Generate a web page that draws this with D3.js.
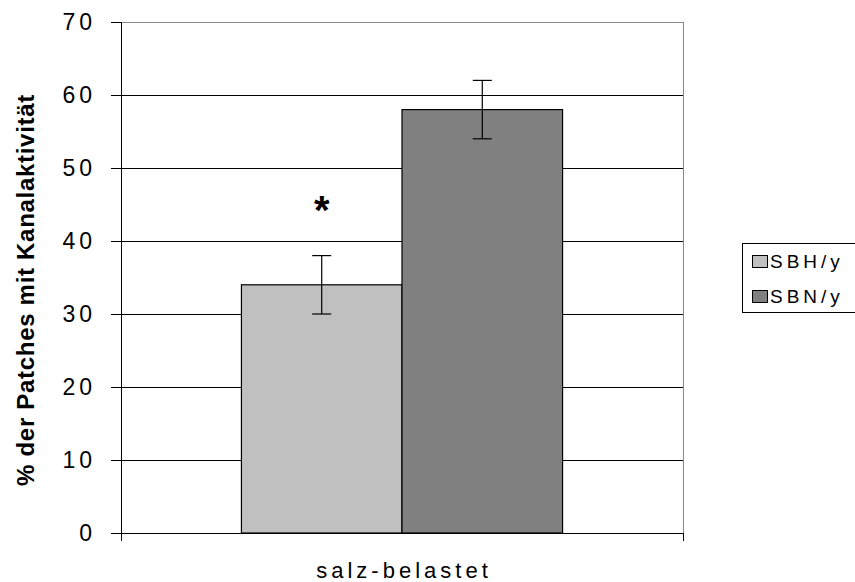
<!DOCTYPE html>
<html><head><meta charset="utf-8">
<script src="https://cdn.jsdelivr.net/npm/d3@7"></script>
<style>body{margin:0;background:#fff}svg{display:block}text{font-family:"Liberation Sans",Arial,sans-serif}</style>
</head><body>
<script>
const categories = ["salz-belastet"];
const seriesNames = ["SBH/y", "SBN/y"];
const seriesValues = [34, 58];
const seriesErrors = [4, 4];
const seriesColors = ["#c0c0c0", "#808080"];
const yTicks = [0, 10, 20, 30, 40, 50, 60, 70];
const significance = ["*", ""];

(function () {
const W = 855, H = 582;
const svg = d3.select("body").append("svg").attr("width", W).attr("height", H);
const pL = 121, pR = 683, pT = 22, pB = 533;
const y = d3.scaleLinear().domain([0, 70]).range([pB, pT]);
const x0 = d3.scaleBand().domain(categories).range([pL, pR]).paddingInner(0).paddingOuter(0.375);
const x1 = d3.scaleBand().domain(seriesNames).range([0, x0.bandwidth()]);

// gridlines
svg.append("g").selectAll("line").data(yTicks.filter(d => d > 0)).join("line")
  .attr("x1", pL).attr("x2", pR).attr("y1", d => y(d)).attr("y2", d => y(d))
  .attr("stroke", d => d === 70 ? "#888" : "#000").attr("stroke-width", 1).attr("shape-rendering", "crispEdges");
// right border
svg.append("line").attr("x1", pR).attr("x2", pR).attr("y1", pT).attr("y2", pB)
  .attr("stroke", "#888").attr("shape-rendering", "crispEdges");

// bars
const g = svg.append("g");
categories.forEach(c => {
  seriesNames.forEach((s, i) => {
    const bx = x0(c) + x1(s);
    g.append("rect").attr("x", bx).attr("y", y(seriesValues[i]))
      .attr("width", x1.bandwidth()).attr("height", y(0) - y(seriesValues[i]))
      .attr("fill", seriesColors[i]).attr("stroke", "#000").attr("stroke-width", 1.2);
    const cx = bx + x1.bandwidth() / 2;
    const lo = y(seriesValues[i] - seriesErrors[i]), hi = y(seriesValues[i] + seriesErrors[i]);
    g.append("line").attr("x1", cx).attr("x2", cx).attr("y1", lo).attr("y2", hi).attr("stroke", "#000").attr("stroke-width", 1.2);
    [lo, hi].forEach(v => g.append("line").attr("x1", cx - 9.5).attr("x2", cx + 9.5).attr("y1", v).attr("y2", v).attr("stroke", "#000").attr("stroke-width", 1.2));
    if (significance[i]) {
      g.append("text").attr("x", cx).attr("y", hi - 32)
        .attr("text-anchor", "middle").attr("font-size", 40).attr("font-weight", "bold").text(significance[i]);
    }
  });
});

// y axis
const yAxis = d3.axisLeft(y).tickValues(yTicks).tickSize(10).tickPadding(15).tickFormat(d => d);
const ya = svg.append("g").attr("transform", `translate(${pL},0)`).call(yAxis);
ya.select(".domain").remove();
ya.selectAll(".tick line").attr("stroke", "#000");
ya.selectAll(".tick text").attr("font-size", 23).attr("letter-spacing", "4px").attr("fill", "#000")
  .attr("font-family", "Liberation Sans, Arial, sans-serif");
svg.append("line").attr("x1", pL).attr("x2", pL).attr("y1", pT).attr("y2", pB + 8).attr("stroke", "#000").attr("shape-rendering", "crispEdges");
// x axis
svg.append("line").attr("x1", pL - 10).attr("x2", pR).attr("y1", pB).attr("y2", pB).attr("stroke", "#000").attr("shape-rendering", "crispEdges");
svg.append("line").attr("x1", pR).attr("x2", pR).attr("y1", pB).attr("y2", pB + 8).attr("stroke", "#000").attr("shape-rendering", "crispEdges");
svg.append("g").selectAll("text").data(categories).join("text")
  .attr("x", d => x0(d) + x0.bandwidth() / 2 + 2).attr("y", 578).attr("text-anchor", "middle")
  .attr("font-size", 22).attr("letter-spacing", "4px").text(d => d);

// y label
svg.append("text").attr("transform", `translate(34,290) rotate(-90)`)
  .attr("text-anchor", "middle").attr("font-size", 24).attr("font-weight", "bold").attr("letter-spacing", "0.7px")
  .text("% der Patches mit Kanalaktivität");

// legend
const lg = svg.append("g").attr("transform", "translate(742,243)");
lg.append("rect").attr("x", 0.5).attr("y", 0.5).attr("width", 130).attr("height", 69).attr("fill", "#fff").attr("stroke", "#000");
seriesNames.forEach((s, i) => {
  lg.append("rect").attr("x", 10.5).attr("y", 12.5 + i * 35).attr("width", 15).attr("height", 12)
    .attr("fill", seriesColors[i]).attr("stroke", "#000");
  lg.append("text").attr("x", 28).attr("y", 25 + i * 35).attr("font-size", 19).attr("letter-spacing", "4px").text(s);
});
})();
</script>
</body></html>
